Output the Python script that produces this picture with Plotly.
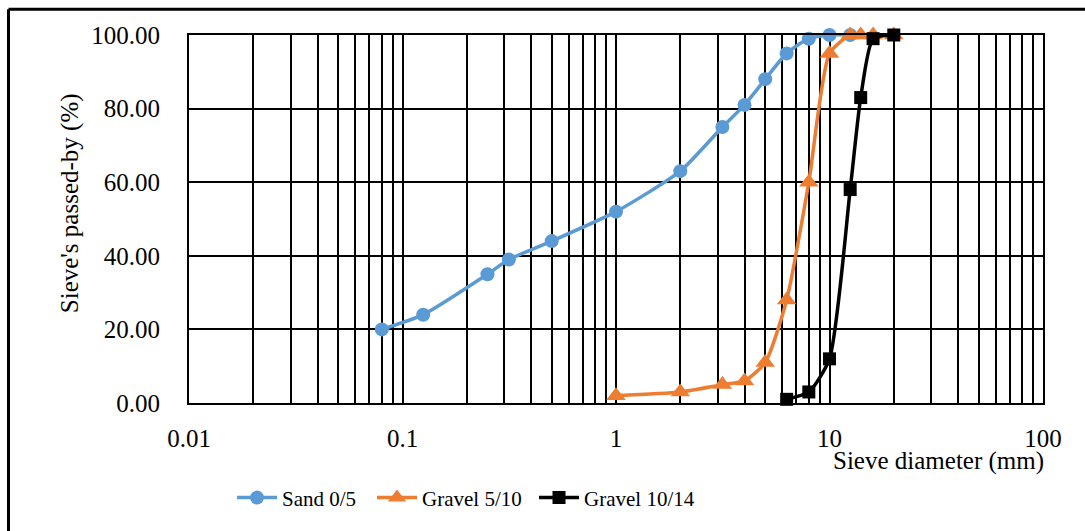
import plotly.graph_objects as go

sand_x = [0.08, 0.125, 0.25, 0.315, 0.5, 1, 2, 3.15, 4, 5, 6.3, 8, 10, 12.5]
sand_y = [20, 24, 35, 39, 44, 52, 63, 75, 81, 88, 95, 99, 100, 100]

g510_x = [1, 2, 3.15, 4, 5, 6.3, 8, 10, 12.5, 14, 16, 20]
g510_y = [2, 3, 5, 6, 11, 28, 60, 95, 100, 100, 100, 100]

g1014_x = [6.3, 8, 10, 12.5, 14, 16, 20]
g1014_y = [1, 3, 12, 58, 83, 99, 100]

x_ticks = [0.01, 0.1, 1, 10, 100]
x_tick_labels = ["0.01", "0.1", "1", "10", "100"]
y_ticks = [0, 20, 40, 60, 80, 100]

minor_vals = [m * d for d in [0.01, 0.1, 1, 10] for m in range(2, 10)]

FONT = "Liberation Serif"

fig = go.Figure()
fig.add_trace(go.Scatter(
    x=sand_x, y=sand_y, name="Sand 0/5", mode="lines+markers", legend="legend",
    line=dict(color="#5B9BD5", width=3.5, shape="spline", smoothing=0.6),
    marker=dict(symbol="circle", size=14, color="#5B9BD5"), cliponaxis=False))
fig.add_trace(go.Scatter(
    x=g510_x, y=g510_y, name="Gravel 5/10", mode="lines+markers", legend="legend2",
    line=dict(color="#ED7D31", width=3.5, shape="spline", smoothing=0.6),
    marker=dict(symbol="triangle-up", size=17, color="#ED7D31"), cliponaxis=False))
fig.add_trace(go.Scatter(
    x=g1014_x, y=g1014_y, name="Gravel 10/14", mode="lines+markers", legend="legend3",
    line=dict(color="#000000", width=3.5, shape="spline", smoothing=0.6),
    marker=dict(symbol="square", size=13, color="#000000"), cliponaxis=False))


def leg(px):
    return dict(orientation="h", x=(px - 189) / 854, xanchor="left",
                y=(407 - 503) / 372, yanchor="middle",
                font=dict(size=21, family=FONT, color="black"), itemwidth=40,
                bgcolor="rgba(0,0,0,0)")


fig.update_layout(
    width=1085, height=531,
    margin=dict(l=189, r=42, t=35, b=124),
    paper_bgcolor="white", plot_bgcolor="white",
    font=dict(family=FONT, color="black", size=25),
    showlegend=True,
    legend=leg(232), legend2=leg(372), legend3=leg(534),
    xaxis=dict(type="log", range=[-2, 2], tickvals=x_ticks, ticktext=x_tick_labels,
               showgrid=True, gridcolor="black", gridwidth=2,
               minor=dict(tickvals=minor_vals, showgrid=True, gridcolor="black", gridwidth=2),
               showline=True, linecolor="black", linewidth=2, mirror=True,
               ticks="", ticklabelstandoff=12, zeroline=False,
               tickfont=dict(size=25, family=FONT)),
    yaxis=dict(range=[0, 100], tickvals=y_ticks, tickformat=".2f",
               showgrid=True, gridcolor="black", gridwidth=2,
               showline=True, linecolor="black", linewidth=2, mirror=True,
               ticks="", ticklabelstandoff=22, zeroline=False,
               tickfont=dict(size=25, family=FONT)),
    annotations=[
        dict(text="Sieve diameter (mm)", xref="paper", yref="paper",
             x=(1046 - 189) / 854, y=(407 - 466) / 372, xanchor="right", yanchor="middle",
             showarrow=False, font=dict(size=25, family=FONT)),
        dict(text="Sieve's passed-by (%)", xref="paper", yref="paper",
             x=(70 - 189) / 854, y=(407 - 205) / 372, xanchor="center", yanchor="middle",
             textangle=-90, showarrow=False, font=dict(size=25, family=FONT)),
    ],
    shapes=[
        dict(type="line", xref="paper", yref="paper",
             x0=(8.5 - 189) / 854, x1=(8.5 - 189) / 854, y0=(407 - 9) / 372, y1=(407 - 600) / 372,
             line=dict(color="black", width=3)),
        dict(type="line", xref="paper", yref="paper",
             x0=(8.5 - 189) / 854, x1=(1200 - 189) / 854, y0=(407 - 9) / 372, y1=(407 - 9) / 372,
             line=dict(color="black", width=3)),
    ],
)

fig.write_html("out.html")
